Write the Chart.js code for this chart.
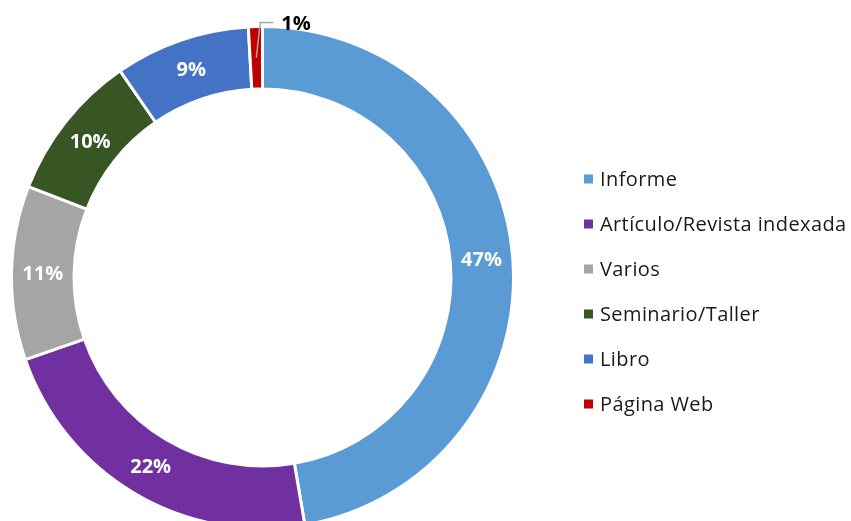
<!DOCTYPE html>
<html>
<head>
<meta charset="utf-8">
<script src="https://cdn.jsdelivr.net/npm/chart.js@4.4.1/dist/chart.umd.min.js"></script>
<style>
  html, body { margin: 0; padding: 0; background: #fff; overflow: hidden; }
  #wrap { position: relative; width: 851px; height: 521px; overflow: hidden; }
  canvas { display: block; }
</style>
</head>
<body>
<div id="wrap"><canvas id="c" width="851" height="560"></canvas></div>
<script>
const categories = ["Informe", "Artículo/Revista indexada", "Varios", "Seminario/Taller", "Libro", "Página Web"];
const shares = [47.3, 22.4, 11.2, 9.5, 8.7, 0.9];
const colors = ["#5B9BD5", "#7030A0", "#A5A5A5", "#375623", "#4472C4", "#C00000"];

const FONT = "'Open Sans', Lato, sans-serif";

const labelPlugin = {
  id: 'sliceLabels',
  afterDatasetsDraw(chart) {
    const ctx = chart.ctx;
    const meta = chart.getDatasetMeta(0);
    const total = shares.reduce((a, b) => a + b, 0);
    ctx.save();
    meta.data.forEach((arc, i) => {
      const p = arc.getProps(['startAngle', 'endAngle', 'innerRadius', 'outerRadius', 'x', 'y'], true);
      const mid = (p.startAngle + p.endAngle) / 2;
      const r = (p.innerRadius + p.outerRadius) / 2;
      const lx = p.x + Math.cos(mid) * r;
      const ly = p.y + Math.sin(mid) * r;
      const txt = Math.round(shares[i] / total * 100) + '%';
      const frac = shares[i] / total;
      ctx.font = "bold 20px " + FONT;
      if (frac < 0.03) {
        const ex = lx + 4, ey = p.y - p.outerRadius - 4;
        ctx.strokeStyle = '#A6A6A6';
        ctx.lineWidth = 1.5;
        ctx.beginPath();
        ctx.moveTo(lx, ly);
        ctx.lineTo(ex, ey);
        ctx.lineTo(ex + 13, ey);
        ctx.stroke();
        ctx.fillStyle = '#000';
        ctx.textAlign = 'left';
        ctx.textBaseline = 'middle';
        ctx.fillText(txt, ex + 21, ey + 2);
      } else {
        ctx.fillStyle = '#fff';
        ctx.textAlign = 'center';
        ctx.textBaseline = 'middle';
        ctx.fillText(txt, lx, ly + 1);
      }
    });
    ctx.restore();
  }
};

const legendPlugin = {
  id: 'sideLegend',
  afterDraw(chart) {
    const ctx = chart.ctx;
    ctx.save();
    ctx.font = "20px " + FONT;
    if ('letterSpacing' in ctx) ctx.letterSpacing = '0.4px';
    ctx.textAlign = 'left';
    ctx.textBaseline = 'middle';
    categories.forEach((name, i) => {
      const y = 179 + i * 45;
      ctx.fillStyle = colors[i];
      ctx.fillRect(584, y - 4.5, 9, 9);
      ctx.fillStyle = '#1a1a1a';
      ctx.fillText(name, 600, y + 1);
    });
    ctx.restore();
  }
};

new Chart(document.getElementById('c'), {
  type: 'doughnut',
  data: {
    labels: categories,
    datasets: [{
      data: shares,
      backgroundColor: colors,
      borderColor: '#fff',
      borderWidth: 3,
      hoverOffset: 0
    }]
  },
  options: {
    responsive: false,
    animation: false,
    devicePixelRatio: 1,
    cutout: '75.1%',
    layout: { padding: { left: 10, top: 25, right: 336, bottom: 30 } },
    plugins: {
      legend: { display: false },
      tooltip: { enabled: false }
    }
  },
  plugins: [labelPlugin, legendPlugin]
});
</script>
</body>
</html>
